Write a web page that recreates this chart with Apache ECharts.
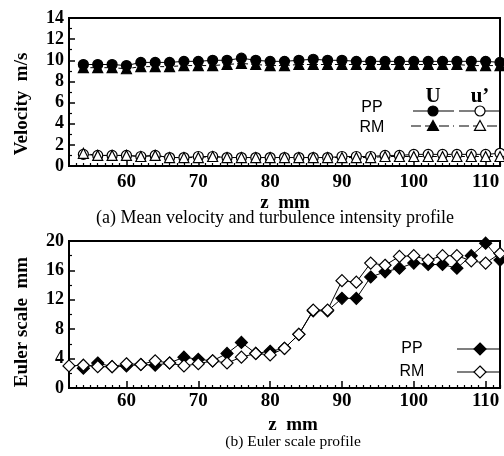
<!DOCTYPE html>
<html><head><meta charset="utf-8">
<script src="https://cdn.jsdelivr.net/npm/echarts@6/dist/echarts.min.js"></script>
<style>html,body{margin:0;padding:0;background:#fff}#c{width:504px;height:456px}</style>
</head><body><div id="c"></div>
<script>
// ---- data ----
const zVel = [54,56,58,60,62,64,66,68,70,72,74,76,78,80,82,84,86,88,90,92,94,96,98,100,102,104,106,108,110,112];
const uPP  = [9.6,9.6,9.6,9.5,9.8,9.8,9.8,9.9,9.9,10.0,10.0,10.2,10.0,9.9,9.9,10.0,10.1,10.0,10.0,9.9,9.9,9.9,9.9,9.9,9.9,9.9,9.9,9.9,9.9,9.8];
const uRM  = [9.3,9.3,9.3,9.2,9.4,9.4,9.4,9.5,9.5,9.5,9.6,9.7,9.6,9.5,9.5,9.6,9.6,9.6,9.6,9.6,9.6,9.6,9.6,9.6,9.6,9.6,9.6,9.5,9.5,9.5];
const tiPP = [1.1,1.0,1.0,1.0,0.9,1.0,0.8,0.8,0.9,0.9,0.8,0.8,0.8,0.8,0.8,0.8,0.8,0.8,0.9,0.9,0.9,1.0,1.0,1.1,1.1,1.1,1.1,1.1,1.1,1.2];
const tiRM = [1.2,1.0,1.0,1.0,0.9,1.0,0.8,0.8,0.8,0.9,0.8,0.8,0.8,0.8,0.8,0.8,0.8,0.8,0.8,0.8,0.8,0.9,0.9,0.9,0.9,0.9,0.9,0.9,0.9,0.9];

const zEulerPP = [54,56,58,60,62,64,66,68,70,72,74,76,78,80,82,84,86,88,90,92,94,96,98,100,102,104,106,108,110,112];
const eulerPP  = [2.7,3.4,2.9,3.0,3.2,3.1,3.4,4.2,3.9,3.7,4.7,6.2,4.7,5.0,5.4,7.3,10.5,10.5,12.2,12.2,15.1,15.8,16.3,17.0,16.8,16.8,16.3,18.0,19.7,17.4];
const zEulerRM = [52,54,56,58,60,62,64,66,68,70,72,74,76,78,80,82,84,86,88,90,92,94,96,98,100,102,104,106,108,110,112];
const eulerRM  = [3.0,3.1,2.9,2.9,3.3,3.2,3.7,3.4,3.0,3.3,3.7,3.4,4.2,4.7,4.5,5.4,7.3,10.6,10.6,14.6,14.4,17.0,16.7,17.9,18.0,17.4,18.0,18.0,17.3,17.0,18.3];

const xMajorTicks = [60,70,80,90,100,110];
const xRange = [52,112];
const velRange = [0,14,2];
const eulerRange = [0,20,4];

// ---- helpers ----
const xMinorTicks = [];
for (let v = xRange[0] + 1; v <= xRange[1]; v++) if (xMajorTicks.indexOf(v) < 0) xMinorTicks.push(v);
const pairs = (xs, ys) => xs.map((x, i) => [x, ys[i]]);
const SERIF = 'Liberation Serif';
const blk = '#000';

function xMajor(gi, margin) {
  return { type:'value', gridIndex:gi, min:xRange[0], max:xRange[1],
    axisLine:{show:true, onZero:false, lineStyle:{color:blk, width:2}},
    axisTick:{show:true, inside:true, length:7, customValues:xMajorTicks, lineStyle:{color:blk, width:1.5}},
    axisLabel:{customValues:xMajorTicks, margin:margin, color:blk, fontFamily:SERIF, fontWeight:'bold', fontSize:19},
    splitLine:{show:false} };
}
function xMinor(gi) {
  return { type:'value', gridIndex:gi, min:xRange[0], max:xRange[1], position:'bottom',
    axisLine:{show:false},
    axisTick:{show:true, inside:true, length:3, customValues:xMinorTicks, lineStyle:{color:blk, width:1.2}},
    axisLabel:{show:false}, splitLine:{show:false} };
}
function yAx(gi, r) {
  return { type:'value', gridIndex:gi, min:r[0], max:r[1], interval:r[2],
    axisLine:{show:true, onZero:false, lineStyle:{color:blk, width:2}},
    axisTick:{show:true, inside:true, length:6, lineStyle:{color:blk, width:1.5}},
    minorTick:{show:true, splitNumber:2, length:3, lineStyle:{color:blk, width:1.2}},
    axisLabel:{margin:5, color:blk, fontFamily:SERIF, fontWeight:'bold', fontSize:18},
    splitLine:{show:false} };
}
function ser(name, xi, yi, data, symbol, size, filled, dashed) {
  return { name, type:'line', xAxisIndex:xi, yAxisIndex:yi, data, symbol, symbolSize:size,
    silent:true, animation:false,
    itemStyle:{color: filled ? blk : '#fff', borderColor:blk, borderWidth:1.2},
    lineStyle:{color:blk, width:1, type: dashed ? [4,3] : 'solid'},
    emphasis:{disabled:true} };
}

const chart = echarts.init(document.getElementById('c'), null, {renderer:'canvas'});
const txt = (x, y, t, size, opts={}) => ({ type:'text', x, y, rotation: opts.rot || 0, silent:true,
  style:{ text:t, x:0, y:0, fill:blk, font:(opts.bold?'bold ':'') + size + 'px ' + (opts.sans ? 'Liberation Sans' : SERIF),
    textAlign:'center', textVerticalAlign:'middle' } });
const ln = (x1, y1, x2, y2, dash) => ({ type:'line', silent:true, shape:{x1,y1,x2,y2}, style:{stroke:blk, lineWidth:1.2, lineDash: dash ? [10,4] : null} });
const tri = (cx, cy, r, filled) => ({ type:'polygon', silent:true, shape:{points:[[cx,cy-r],[cx+r,cy+r*0.8],[cx-r,cy+r*0.8]]}, style:{fill: filled?blk:'#fff', stroke:blk, lineWidth:1.2} });
const circ = (cx, cy, r, filled) => ({ type:'circle', silent:true, shape:{cx,cy,r}, style:{fill: filled?blk:'#fff', stroke:blk, lineWidth:1.2} });
const dia = (cx, cy, r, filled) => ({ type:'polygon', silent:true, shape:{points:[[cx,cy-r],[cx+r,cy],[cx,cy+r],[cx-r,cy]]}, style:{fill: filled?blk:'#fff', stroke:blk, lineWidth:1.2} });

chart.setOption({
  animation:false,
  backgroundColor:'#fff',
  grid:[
    {left:69, right:4, top:18, bottom:290, show:true, borderColor:blk, borderWidth:2, backgroundColor:'transparent'},
    {left:69, right:4, top:241, bottom:68, show:true, borderColor:blk, borderWidth:2, backgroundColor:'transparent'}
  ],
  xAxis:[ xMajor(0, 7), xMinor(0), xMajor(1, 4), xMinor(1) ],
  yAxis:[ yAx(0, velRange), yAx(1, eulerRange) ],
  series:[
    ser('PP U', 0, 0, pairs(zVel, uPP), 'circle', 10, true, false),
    ser('RM U', 0, 0, pairs(zVel, uRM), 'triangle', 10, true, true),
    ser("PP u'", 0, 0, pairs(zVel, tiPP), 'circle', 10, false, false),
    ser("RM u'", 0, 0, pairs(zVel, tiRM), 'triangle', 10, false, true),
    ser('PP', 2, 1, pairs(zEulerPP, eulerPP), 'diamond', 12, true, false),
    ser('RM', 2, 1, pairs(zEulerRM, eulerRM), 'diamond', 12, false, false)
  ],
  graphic:[
    txt(22, 104, 'Velocity  m/s', 19, {bold:true, rot:Math.PI/2}),
    txt(22, 322, 'Euler scale  mm', 19, {bold:true, rot:Math.PI/2}),
    txt(285, 203, 'z  mm', 19, {bold:true}),
    txt(275, 218, '(a) Mean velocity and turbulence intensity profile', 18),
    txt(293, 425, 'z  mm', 19, {bold:true}),
    txt(293, 442, '(b) Euler scale profile', 15.5),
    // top legend
    txt(433, 97, 'U', 21, {bold:true}),
    txt(480, 97, 'u\u2019', 21, {bold:true}),
    txt(372, 108, 'PP', 16, {sans:true}),
    txt(372, 128, 'RM', 16, {sans:true}),
    ln(413, 111, 454, 111, false), circ(433, 111, 5, true),
    ln(459, 111, 500, 111, false), circ(480, 111, 5, false),
    ln(411, 126, 454, 126, true), tri(433, 126, 5.5, true),
    ln(459, 126, 500, 126, true), tri(480, 126, 5.5, false),
    // bottom legend
    txt(412, 349, 'PP', 16, {sans:true}),
    txt(412, 372, 'RM', 16, {sans:true}),
    ln(457, 349, 500, 349, false), dia(480, 349, 6, true),
    ln(457, 372, 500, 372, false), dia(480, 372, 6, false)
  ]
});
</script>
</body></html>
